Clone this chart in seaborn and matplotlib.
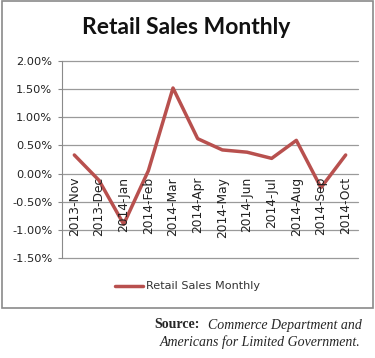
import matplotlib
matplotlib.use("Agg")
import matplotlib.pyplot as plt
import seaborn as sns
import pandas as pd
from matplotlib.patches import Rectangle
from matplotlib.lines import Line2D

months = ["2013-Nov", "2013-Dec", "2014-Jan", "2014-Feb", "2014-Mar", "2014-Apr",
          "2014-May", "2014-Jun", "2014-Jul", "2014-Aug", "2014-Sep", "2014-Oct"]
values = [0.33, -0.12, -0.90, 0.05, 1.52, 0.62, 0.42, 0.38, 0.27, 0.59, -0.25, 0.33]
yticks = [-1.5, -1.0, -0.5, 0.0, 0.5, 1.0, 1.5, 2.0]

sns.set_style("white")
plt.rcParams['font.family'] = ['DejaVu Sans']

df = pd.DataFrame({"month": months, "value": values, "x": range(len(months))})

W, H = 375, 358
fig = plt.figure(figsize=(3.75, 3.58), dpi=100)
ax = fig.add_axes([62/W, 1 - 258/H, 296/W, 197/H])

LINE_C = "#B8504E"
sns.lineplot(data=df, x="x", y="value", color=LINE_C, linewidth=2.5, ax=ax, legend=False)

ax.set_xlim(-0.5, len(months) - 0.5)
ax.set_ylim(-1.5, 2.0)
ax.set_yticks(yticks)
ax.set_yticklabels([f"{v:.2f}%" for v in yticks], fontsize=8.2, color="#222222")
ax.yaxis.grid(False)
for v in yticks:
    ax.axhline(v, color="#9a9a9a", linewidth=0.9, zorder=0, clip_on=False)
ax.set_xticks([])
ax.set_xlabel("")
ax.set_ylabel("")
for s in ["top", "right", "bottom"]:
    ax.spines[s].set_visible(False)
ax.spines["left"].set_color("#8a8a8a")
ax.tick_params(axis="y", length=3, color="#8a8a8a", pad=4, left=True)

for i, m in enumerate(months):
    ax.text(i, -0.06, m, rotation=90, ha="center", va="top", fontsize=8.8, color="#222222")

fig.text(186/W, 1 - 28/H, "Retail Sales Monthly", ha="center", va="center",
         fontsize=16.5, fontweight="bold", family="Lato", color="#111111")

fig.patches.append(Rectangle((2/W, 1 - 308/H), 371/W, 307/H, transform=fig.transFigure,
                             fill=False, edgecolor="#8a8a8a", linewidth=1.2))

leg_y = 1 - 286/H
fig.lines.append(Line2D([115/W, 143/W], [leg_y, leg_y], transform=fig.transFigure,
                        color=LINE_C, linewidth=2.5))
fig.text(146/W, leg_y, "Retail Sales Monthly", ha="left", va="center", fontsize=8.1, color="#333333")

fig.text(154/W, 1 - 325/H, "Source:", ha="left", va="center", fontsize=10,
         family="Liberation Serif", fontweight="bold")
fig.text(362/W, 1 - 325/H, "Commerce Department and", ha="right", va="center", fontsize=10,
         family="Liberation Serif", style="italic")
fig.text(361/W, 1 - 342/H, "Americans for Limited Government.", ha="right", va="center",
         fontsize=10, family="Liberation Serif", style="italic")

fig.savefig("out.png", dpi=100)
